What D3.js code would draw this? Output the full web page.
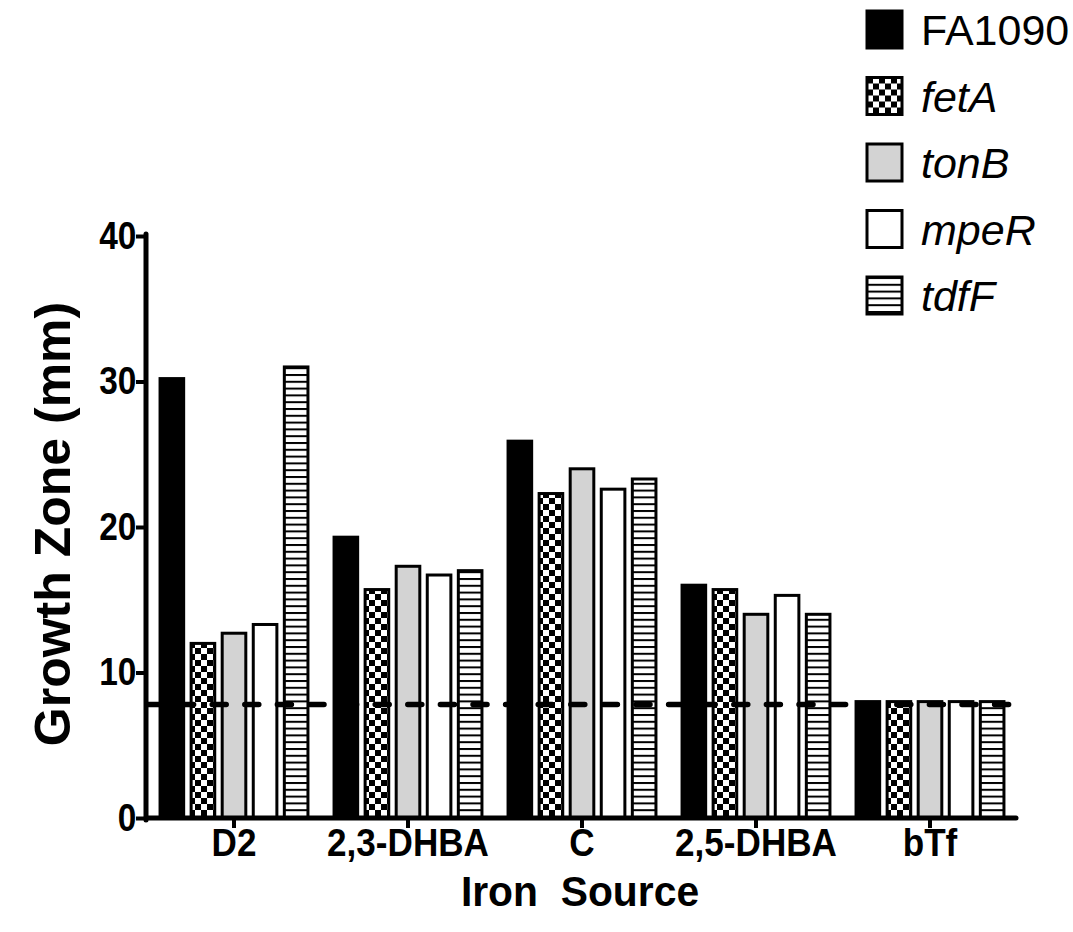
<!DOCTYPE html>
<html>
<head>
<meta charset="utf-8">
<script src="https://cdn.jsdelivr.net/npm/d3@7"></script>
<style>
  body { margin: 0; background: #fff; }
  svg { display: block; font-family: "Liberation Sans", Arial, sans-serif; }
</style>
</head>
<body>
<svg id="chart"></svg>
<script>
var screen = {width: 1073, height: 932}

// data
var sources = ["D2", "2,3-DHBA", "C", "2,5-DHBA", "bTf"]
var strains = ["FA1090", "fetA", "tonB", "mpeR", "tdfF"]
var FA1090 = [30.2, 19.3, 25.9, 16.0, 8.0]
var fetA   = [12.0, 15.7, 22.3, 15.7, 8.0]
var tonB   = [12.7, 17.3, 24.0, 14.0, 8.0]
var mpeR   = [13.3, 16.7, 22.6, 15.3, 8.0]
var tdfF   = [31.0, 17.0, 23.3, 14.0, 8.0]
var yTicks = [0, 10, 20, 30, 40]
var cutoff = 7.8

var values = {FA1090: FA1090, fetA: fetA, tonB: tonB, mpeR: mpeR, tdfF: tdfF}
var fills = {FA1090: "#000", fetA: "url(#checks)", tonB: "#d3d3d3", mpeR: "#fff", tdfF: "url(#stripes)"}

var svg = d3.select("#chart")
    .attr("width", screen.width)
    .attr("height", screen.height)

// patterns
var defs = svg.append("defs")
var chk = defs.append("pattern").attr("id", "checks")
    .attr("patternUnits", "userSpaceOnUse")
    .attr("width", 12).attr("height", 12)
chk.append("rect").attr("width", 12).attr("height", 12).attr("fill", "#fff")
chk.append("rect").attr("width", 6).attr("height", 6).attr("fill", "#000")
chk.append("rect").attr("x", 6).attr("y", 6).attr("width", 6).attr("height", 6).attr("fill", "#000")

var str = defs.append("pattern").attr("id", "stripes")
    .attr("patternUnits", "userSpaceOnUse")
    .attr("width", 10).attr("height", 6.8)
str.append("rect").attr("width", 10).attr("height", 6.8).attr("fill", "#fff")
str.append("rect").attr("y", 0).attr("width", 10).attr("height", 2).attr("fill", "#000")

var xScale = d3.scaleBand()
    .domain(sources)
    .range([147, 1017])
    .padding(0)

var xInner = d3.scaleBand()
    .domain(strains)
    .range([0, xScale.bandwidth()])
    .paddingInner(0.24)
    .paddingOuter(0.42)

var yScale = d3.scaleLinear()
    .domain([0, 40])
    .range([818, 236])

// bars
var groups = svg.append("g").attr("id", "bars")
    .selectAll("g")
    .data(sources)
    .enter()
    .append("g")
    .attr("transform", function(s) { return "translate(" + xScale(s) + ",0)" })

groups.selectAll("rect")
    .data(function(s, i) {
        return strains.map(function(k) { return {strain: k, value: values[k][i]} })
    })
    .enter()
    .append("rect")
    .attr("x", function(d) { return xInner(d.strain) })
    .attr("width", xInner.bandwidth())
    .attr("y", function(d) { return yScale(d.value) })
    .attr("height", function(d) { return yScale(0) - yScale(d.value) })
    .attr("fill", function(d) { return fills[d.strain] })
    .attr("stroke", "#000")
    .attr("stroke-width", 3)

// dashed cutoff line
svg.append("line")
    .attr("x1", 147).attr("x2", 1012)
    .attr("y1", yScale(cutoff)).attr("y2", yScale(cutoff))
    .attr("stroke", "#000")
    .attr("stroke-width", 5.5)
    .attr("stroke-dasharray", "14 18.6")
    .attr("stroke-linecap", "round")

// axes
var yAxis = d3.axisLeft(yScale).tickValues(yTicks).tickSize(10).tickPadding(1)
var xAxis = d3.axisBottom(xScale).tickSize(10).tickPadding(0)

var gy = svg.append("g").attr("transform", "translate(146,0)").call(yAxis)
var gx = svg.append("g").attr("transform", "translate(0,818)").call(xAxis)

gy.select(".domain").remove()
gx.select(".domain").remove()
svg.append("line").attr("x1", 146).attr("x2", 146).attr("y1", 234).attr("y2", 820)
    .attr("stroke", "#000").attr("stroke-width", 5).attr("stroke-linecap", "round")
svg.append("line").attr("x1", 146).attr("x2", 1016).attr("y1", 818).attr("y2", 818)
    .attr("stroke", "#000").attr("stroke-width", 5).attr("stroke-linecap", "round")

gy.selectAll(".tick line").attr("stroke", "#000").attr("stroke-width", 4)
gx.selectAll(".tick line").attr("stroke", "#000").attr("stroke-width", 4)
gy.selectAll("text")
    .attr("fill", "#000")
    .attr("transform", "scale(0.88,1)")
    .style("font-size", "38px")
    .style("font-weight", "bold")
    .style("font-family", "'Liberation Sans', Arial, sans-serif")
gx.selectAll("text")
    .attr("fill", "#000")
    .attr("transform", "scale(0.9,1)")
    .style("font-size", "39px")
    .style("font-weight", "bold")
    .style("font-family", "'Liberation Sans', Arial, sans-serif")

// axis titles
svg.append("text")
    .attr("transform", "translate(70,524) rotate(-90)")
    .attr("text-anchor", "middle")
    .style("font-size", "50px")
    .style("font-weight", "bold")
    .text("Growth Zone (mm)")

svg.append("text")
    .attr("transform", "translate(580,906) scale(0.95,1)")
    .attr("text-anchor", "middle")
    .style("font-size", "43px")
    .style("font-weight", "bold")
    .style("white-space", "pre")
    .text("Iron  Source")

// legend
var legend = svg.append("g").attr("id", "legend")
    .selectAll("g")
    .data(strains)
    .enter()
    .append("g")
    .attr("transform", function(k, i) { return "translate(867," + (11 + i * 66.5) + ")" })

legend.append("rect")
    .attr("width", 35).attr("height", 37)
    .attr("fill", function(k) { return fills[k] })
    .attr("stroke", "#000")
    .attr("stroke-width", 3)

legend.append("text")
    .attr("x", 54).attr("y", 34)
    .style("font-size", "43px")
    .style("font-style", function(k, i) { return i == 0 ? "normal" : "italic" })
    .text(function(k) { return k })
</script>
</body>
</html>
